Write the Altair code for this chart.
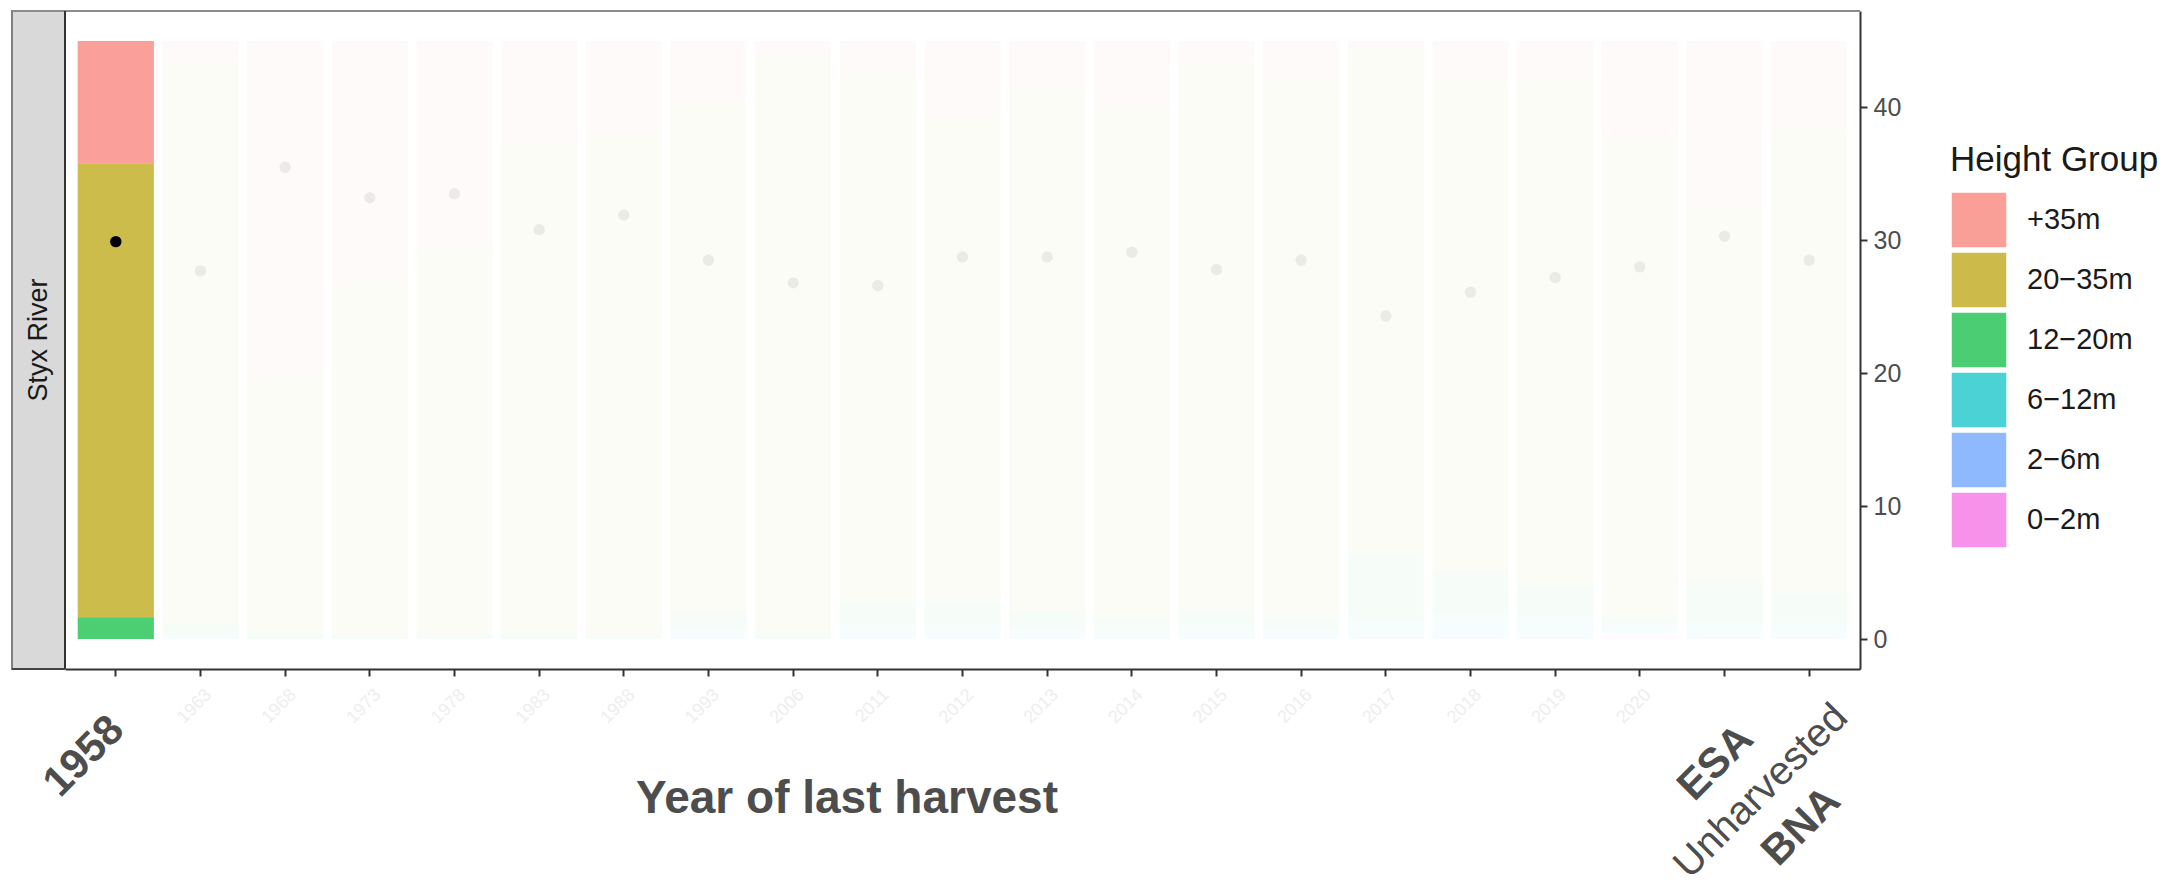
import altair as alt
import pandas as pd

# Harvest classes along the x axis (one stacked bar each)
harvest = ["1958", "1963", "1968", "1973", "1978", "1983", "1988", "1993", "2006",
           "2011", "2012", "2013", "2014", "2015", "2016", "2017", "2018", "2019",
           "2020", "ESA", "BNA"]
focus = "1958"

# Height groups, top of stack first
groups = ["+35m", "20\u221235m", "12\u221220m", "6\u221212m", "2\u22126m", "0\u22122m"]
group_colors = ["#F8766D", "#B79F00", "#00BA38", "#00BFC4", "#619CFF", "#F564E3"]

# Stacked amounts per height group, one value per harvest class
h_35_plus = [9.2, 1.7, 25.3, 18.0, 15.6, 7.7, 7.0, 4.5, 1.0, 2.2, 5.8, 3.6, 5.0, 1.7, 3.0,
             0.6, 3.0, 3.1, 7.4, 12.5, 6.6]
h_20_35 = [34.15, 42.1, 19.3, 26.7, 29.1, 36.9, 37.7, 38.5, 43.6, 40.0, 36.3, 39.3, 38.4,
           41.1, 40.3, 38.0, 37.0, 37.9, 36.0, 28.2, 34.9]
h_12_20 = [1.65, 0.9, 0.4, 0.3, 0.3, 0.4, 0.3, 1.2, 0.4, 1.8, 1.9, 1.3, 1.0, 1.2, 0.9,
           4.9, 3.0, 2.3, 0.6, 3.0, 2.3]
h_6_12 = [0.0, 0.3, 0.0, 0.0, 0.0, 0.0, 0.0, 0.6, 0.0, 0.8, 0.8, 0.6, 0.5, 0.8, 0.6,
          1.2, 1.6, 1.4, 0.4, 1.0, 0.9]
h_2_6 = [0.0, 0.0, 0.0, 0.0, 0.0, 0.0, 0.0, 0.2, 0.0, 0.2, 0.2, 0.2, 0.1, 0.2, 0.2,
         0.3, 0.4, 0.3, 0.2, 0.3, 0.3]
h_0_2 = [0.0, 0.0, 0.0, 0.0, 0.0, 0.0, 0.0, 0.0, 0.0, 0.0, 0.0, 0.0, 0.0, 0.0, 0.0,
         0.0, 0.0, 0.0, 0.4, 0.0, 0.0]

# Mean tree height per harvest class
mean_height = [29.9, 27.7, 35.5, 33.2, 33.5, 30.8, 31.9, 28.5, 26.8, 26.6, 28.75, 28.75,
               29.1, 27.8, 28.5, 24.3, 26.1, 27.2, 28.0, 30.3, 28.5]

series = [h_35_plus, h_20_35, h_12_20, h_6_12, h_2_6, h_0_2]
rows = []
for gi, (g, vals) in enumerate(zip(groups, series)):
    for h, v in zip(harvest, vals):
        rows.append({"harvest": h, "group": g, "value": v, "rank": len(groups) - 1 - gi})
bars_df = pd.DataFrame(rows)
means_df = pd.DataFrame({"harvest": harvest, "mean": mean_height})

W, H = 1795, 658
FONT = "Liberation Sans"

y_scale = alt.Scale(domain=[-2.25, 47.25], nice=False, zero=False)
is_focus = alt.datum.harvest == focus

bars = alt.Chart(bars_df).mark_bar().encode(
    x=alt.X("harvest:N", sort=harvest,
            scale=alt.Scale(paddingInner=0.1, paddingOuter=0.15),
            axis=alt.Axis(title=None, labels=False, ticks=True, tickSize=7, tickWidth=2,
                          tickColor="#333333", domainColor="#333333", domainWidth=2,
                          grid=False)),
    y=alt.Y("value:Q", stack="zero", scale=y_scale,
            axis=alt.Axis(orient="right", values=[0, 10, 20, 30, 40], title=None,
                          grid=False, tickSize=7, tickWidth=2, tickColor="#333333",
                          domainColor="#333333", domainWidth=2, labelFontSize=25,
                          labelColor="#4d4d4d", labelFont=FONT, labelPadding=6)),
    color=alt.Color("group:N", scale=alt.Scale(domain=groups, range=group_colors),
                    legend=alt.Legend(title="Height Group", orient="none",
                                      legendX=1885, legendY=132,
                                      titleFontSize=35, titleFont=FONT,
                                      titleFontWeight="normal", titleColor="#1a1a1a",
                                      titleLimit=500, labelLimit=300,
                                      titlePadding=13, labelFontSize=29, labelFont=FONT,
                                      labelColor="#1a1a1a", labelOffset=19,
                                      symbolType="square", symbolSize=3136,
                                      symbolOpacity=0.7, symbolStrokeColor="white",
                                      symbolStrokeWidth=1.5, rowPadding=-4.5)),
    order=alt.Order("rank:Q", sort="ascending"),
    opacity=alt.condition(is_focus, alt.value(0.7), alt.value(0.035)),
)

points = alt.Chart(means_df).mark_circle(size=130, color="black").encode(
    x=alt.X("harvest:N", sort=harvest),
    y=alt.Y("mean:Q"),
    opacity=alt.condition(is_focus, alt.value(1.0), alt.value(0.065)),
)

# Tick labels along the x axis
faded_labels = alt.Chart(pd.DataFrame({"harvest": harvest[1:19]})).mark_text(
    angle=315, align="right", baseline="top", font=FONT, fontSize=18,
    color="#eeeeee", xOffset=2,
).encode(x=alt.X("harvest:N", sort=harvest), y=alt.value(675), text="harvest:N")


def bold_label(name, dx, y):
    return alt.Chart(pd.DataFrame({"harvest": [name]})).mark_text(
        angle=315, align="right", baseline="top", font=FONT, fontSize=42,
        fontWeight="bold", color="#4d4d4d", xOffset=dx,
    ).encode(x=alt.X("harvest:N", sort=harvest), y=alt.value(y), text="harvest:N")


lbl_1958 = bold_label("1958", -13, 698)
lbl_esa = bold_label("ESA", 7.5, 707)
lbl_bna = bold_label("BNA", 10, 769)
lbl_unharvested = alt.Chart(pd.DataFrame({"harvest": ["BNA"], "t": ["Unharvested"]})).mark_text(
    angle=315, align="right", baseline="top", font=FONT, fontSize=40,
    color="#4d4d4d", xOffset=18,
).encode(x=alt.X("harvest:N", sort=harvest), y=alt.value(686), text="t:N")

x_title = alt.Chart(pd.DataFrame({"t": ["Year of last harvest"]})).mark_text(
    font=FONT, fontSize=46, fontWeight="bold", color="#4d4d4d",
    align="center", baseline="alphabetic",
).encode(x=alt.value(782), y=alt.value(802), text="t:N")

# Facet strip on the left of the panel
strip_df = pd.DataFrame({"t": ["Styx River"]})
strip_box = alt.Chart(strip_df).mark_rect(
    fill="#d9d9d9", stroke="#808080", strokeWidth=2
).encode(x=alt.value(-53), x2=alt.value(0), y=alt.value(0), y2=alt.value(H))
strip_text = alt.Chart(strip_df).mark_text(
    angle=270, font=FONT, fontSize=27, color="#1a1a1a", align="center", baseline="middle"
).encode(x=alt.value(-26), y=alt.value(H / 2), text="t:N")
top_border = alt.Chart(strip_df).mark_rule(color="#8c8c8c", strokeWidth=2).encode(
    x=alt.value(-53), x2=alt.value(W), y=alt.value(0))
left_border = alt.Chart(strip_df).mark_rule(color="#333333", strokeWidth=2).encode(
    x=alt.value(0), y=alt.value(0), y2=alt.value(H))
strip_bottom = alt.Chart(strip_df).mark_rule(color="#444444", strokeWidth=2).encode(
    x=alt.value(-53), x2=alt.value(0), y=alt.value(H))

chart = alt.layer(
    bars, points, faded_labels, lbl_1958, lbl_esa, lbl_bna, lbl_unharvested, x_title,
    strip_box, strip_text, top_border, left_border, strip_bottom,
).properties(
    width=W, height=H,
    autosize=alt.AutoSizeParams(type="none"),
    padding={"left": 65, "top": 11, "right": 317, "bottom": 217},
    background="white",
).configure_view(stroke=None)

chart.save("out.html", embed_options={"renderer": "svg", "actions": False})
